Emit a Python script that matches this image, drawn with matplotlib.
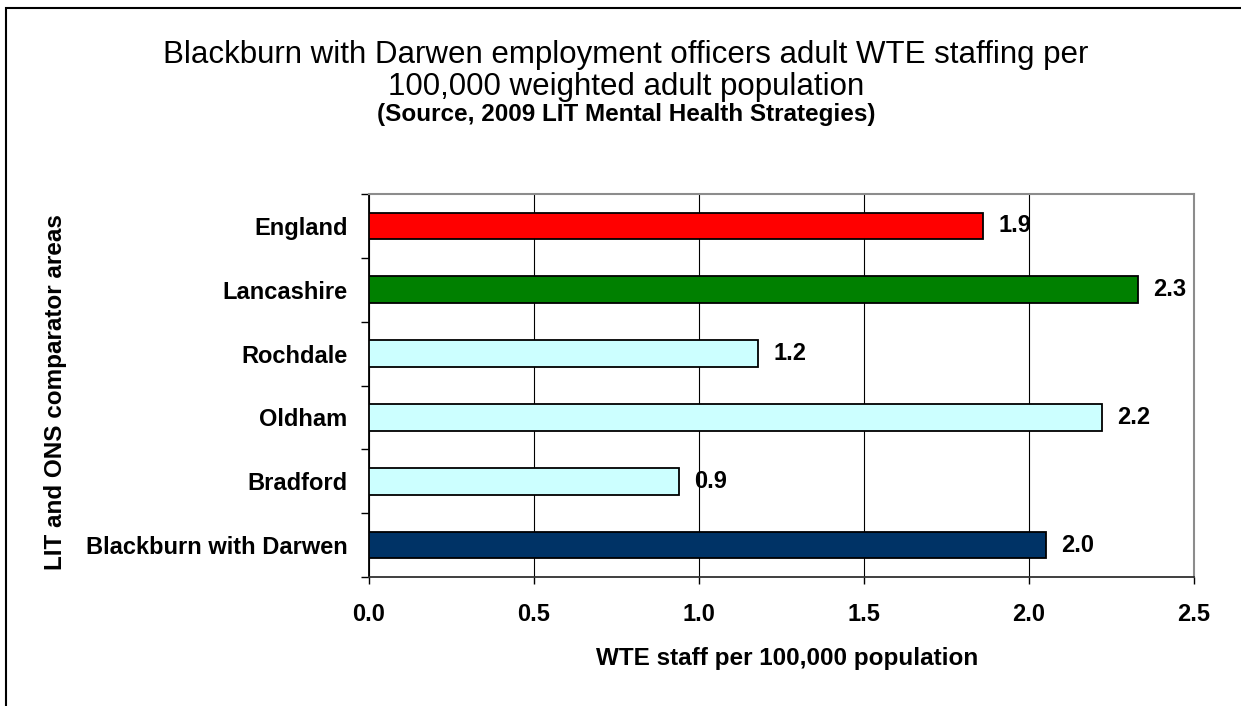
import matplotlib
matplotlib.use('Agg')
import matplotlib.pyplot as plt
from matplotlib.patches import Rectangle
import numpy as np

plt.rcParams['font.family'] = ['Liberation Sans', 'DejaVu Sans']

# bottom to top, as drawn
areas = ['Blackburn with Darwen', 'Bradford', 'Oldham', 'Rochdale', 'Lancashire', 'England']
values = [2.05, 0.94, 2.22, 1.18, 2.33, 1.86]
labels = ['2.0', '0.9', '2.2', '1.2', '2.3', '1.9']
colors = ['#003366', '#CCFFFF', '#CCFFFF', '#CCFFFF', '#008000', '#FF0000']
x_ticks = [0.0, 0.5, 1.0, 1.5, 2.0, 2.5]

W, H = 1241, 706
fig = plt.figure(figsize=(W / 100, H / 100), dpi=100)
ax = fig.add_axes([369 / W, 1 - 577 / H, (1194 - 369) / W, (577 - 194) / H])

y = np.arange(len(areas))
ax.barh(y, values, height=0.42, color=colors, edgecolor='black', linewidth=1.3, zorder=3)

for yi, v, lab in zip(y, values, labels):
    ax.annotate(lab, (v, yi), xytext=(11, 0), textcoords='offset points',
                ha='left', va='center', fontsize=17, fontweight='bold')

ax.set_xlim(0, 2.5)
ax.set_ylim(-0.5, len(areas) - 0.5)
ax.set_xticks(x_ticks)
ax.set_xticklabels([f'{t:.1f}' for t in x_ticks], fontsize=17, fontweight='bold')
ax.set_yticks(y)
ax.set_yticklabels(areas, fontsize=17, fontweight='bold')
ax.set_yticks(np.arange(len(areas) + 1) - 0.5, minor=True)

ax.tick_params(axis='y', which='major', length=0, pad=15.5)
ax.tick_params(axis='y', which='minor', length=5.5, width=1, direction='out', color='black')
ax.tick_params(axis='x', which='major', length=5, width=1, direction='out', pad=14, color='black')

ax.xaxis.grid(True, color='black', linewidth=0.8, zorder=0)
ax.set_axisbelow(True)

ax.spines['left'].set_color('black')
ax.spines['left'].set_linewidth(1.3)
ax.spines['bottom'].set_color('#303030')
ax.spines['bottom'].set_linewidth(1.3)
ax.spines['top'].set_color('#8c8c8c')
ax.spines['top'].set_linewidth(1.5)
ax.spines['right'].set_color('#8c8c8c')
ax.spines['right'].set_linewidth(1.5)

fig.text(626 / W, 1 - 63 / H, 'Blackburn with Darwen employment officers adult WTE staffing per',
         ha='center', va='baseline', fontsize=22.5)
fig.text(626 / W, 1 - 95 / H, '100,000 weighted adult population',
         ha='center', va='baseline', fontsize=22.5)
fig.text(626 / W, 1 - 121 / H, '(Source, 2009 LIT Mental Health Strategies)',
         ha='center', va='baseline', fontsize=17.5, fontweight='bold')

fig.text(56 / W, 1 - 392 / H, 'LIT and ONS comparator areas', rotation=90,
         ha='center', va='center', fontsize=17.5, fontweight='bold')
fig.text(787 / W, 1 - 658 / H, 'WTE staff per 100,000 population',
         ha='center', va='center', fontsize=17.5, fontweight='bold')

# outer chart border (only top and left visible in the frame)
fig.patches.append(Rectangle((6 / W, -0.1), 1.2, 1 - 8 / H + 0.1, transform=fig.transFigure,
                             fill=False, edgecolor='black', linewidth=1.5))

fig.savefig('out.png', dpi=100)
